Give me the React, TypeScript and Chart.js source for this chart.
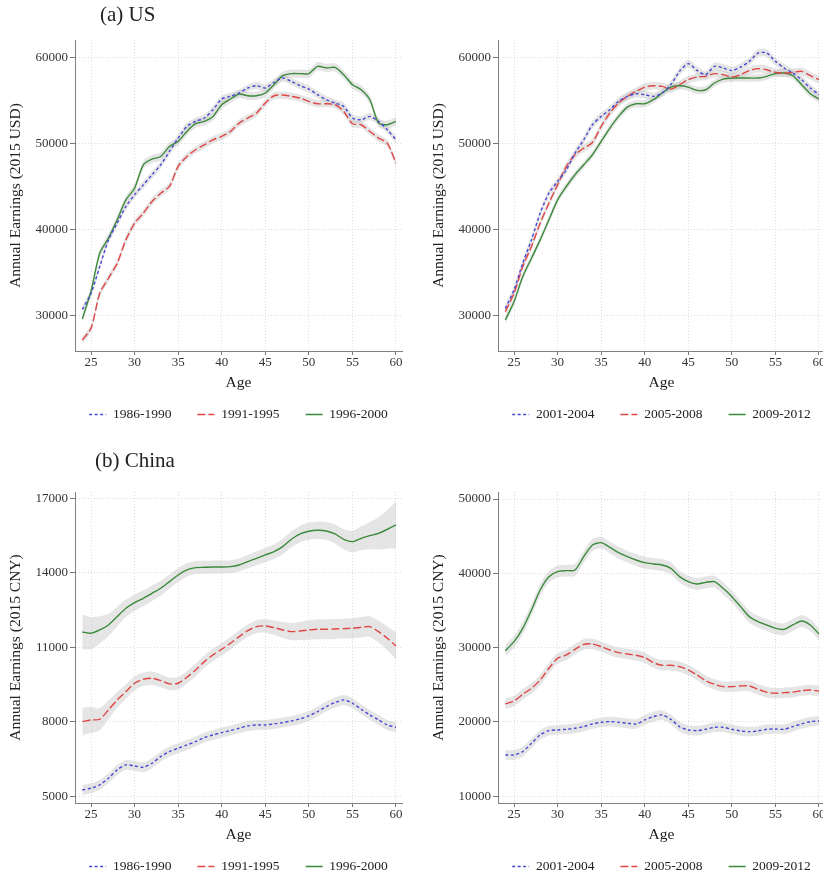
import React, { useEffect, useRef } from "react";
import { Chart, registerables } from "chart.js";

Chart.register(...registerables);

// ---------- data ----------
const ages = [24, 25, 26, 27, 28, 29, 30, 31, 32, 33, 34, 35, 36, 37, 38, 39, 40, 41, 42, 43, 44, 45, 46, 47, 48, 49, 50, 51, 52, 53, 54, 55, 56, 57, 58, 59, 60];
const xTicks = [25, 30, 35, 40, 45, 50, 55, 60];

const earlyCohorts = ["1986-1990", "1991-1995", "1996-2000"];
const lateCohorts = ["2001-2004", "2005-2008", "2009-2012"];

const usYTicks = [30000, 40000, 50000, 60000];
const cnEarlyYTicks = [5000, 8000, 11000, 14000, 17000];
const cnLateYTicks = [10000, 20000, 30000, 40000, 50000];

// (a) US, left
const us1986 = [30780, 32640, 35750, 38850, 40800, 42730, 44100, 45250, 46420, 47580, 49130, 50690, 52050, 52630, 53020, 53990, 55230, 55540, 55930, 56510, 56780, 56510, 57170, 57670, 57280, 56780, 56390, 55730, 55150, 54760, 54370, 53020, 52820, 53210, 52630, 51660, 50490];
const us1991 = [27210, 28570, 32640, 34390, 36130, 38850, 40790, 41950, 43310, 44280, 45060, 47390, 48550, 49330, 49910, 50490, 50880, 51460, 52430, 53020, 53600, 54760, 55610, 55690, 55540, 55340, 54950, 54680, 54680, 54570, 53790, 52360, 52240, 51460, 50690, 50100, 47780];
const us1996 = [29650, 32900, 37300, 39050, 41200, 43500, 44860, 47580, 48240, 48550, 49720, 50300, 51460, 52360, 52630, 53210, 54570, 55230, 55810, 55610, 55610, 55930, 56900, 57940, 58180, 58180, 58180, 59030, 58840, 58910, 58060, 56900, 56310, 55150, 52430, 52240, 52630];

// (a) US, right
const us2001 = [30890, 33030, 36130, 38850, 41950, 44280, 45640, 47000, 48940, 50490, 52240, 53210, 53990, 54950, 55540, 55850, 55730, 55540, 55930, 56900, 58450, 59340, 58560, 58060, 59030, 58840, 58530, 58950, 59610, 60580, 60580, 59610, 58840, 58250, 57480, 56510, 55730];
const us2005 = [30510, 32640, 35750, 38080, 40790, 43120, 45250, 47390, 48750, 49520, 50180, 52050, 53600, 54760, 55540, 56120, 56620, 56780, 56700, 56390, 56900, 57480, 57790, 57870, 58180, 58060, 57790, 58060, 58530, 58760, 58640, 58330, 58250, 58330, 58450, 57940, 57480];
const us2009 = [29530, 31670, 34580, 36720, 38850, 41180, 43510, 45060, 46420, 47580, 48750, 50300, 51850, 53210, 54290, 54680, 54680, 55150, 55930, 56620, 56780, 56620, 56240, 56310, 57090, 57550, 57670, 57670, 57670, 57670, 57870, 58180, 58250, 57940, 56900, 55850, 55230];

// (b) China, left
const cn1986 = [5258, 5325, 5459, 5727, 6062, 6264, 6224, 6170, 6331, 6600, 6801, 6935, 7069, 7203, 7364, 7472, 7566, 7646, 7740, 7834, 7874, 7874, 7915, 7969, 8036, 8116, 8237, 8411, 8613, 8774, 8881, 8747, 8505, 8277, 8076, 7874, 7780];
const cn1991 = [8009, 8076, 8103, 8478, 8881, 9216, 9552, 9713, 9753, 9659, 9525, 9552, 9793, 10089, 10424, 10693, 10921, 11162, 11430, 11672, 11833, 11860, 11793, 11699, 11632, 11659, 11699, 11726, 11726, 11739, 11753, 11766, 11806, 11833, 11632, 11364, 11055];
const cn1996 = [11618, 11565, 11700, 11900, 12236, 12571, 12800, 12974, 13175, 13377, 13645, 13913, 14115, 14209, 14222, 14235, 14235, 14249, 14316, 14450, 14584, 14719, 14853, 15054, 15349, 15564, 15671, 15712, 15685, 15564, 15349, 15255, 15390, 15497, 15591, 15752, 15926];

// (b) China, right
const cn2001 = [15563, 15563, 16011, 17132, 18253, 18836, 18926, 19016, 19150, 19374, 19733, 19957, 20047, 19957, 19822, 19733, 20271, 20719, 20943, 20360, 19374, 18926, 18836, 19016, 19285, 19285, 19016, 18791, 18702, 18791, 19016, 19060, 19016, 19374, 19733, 20047, 20137];
const cn2005 = [22423, 22827, 23724, 24531, 25652, 27221, 28566, 29015, 29777, 30450, 30494, 30136, 29687, 29329, 29149, 28970, 28656, 27984, 27625, 27625, 27446, 26997, 26325, 25563, 25069, 24755, 24755, 24845, 24845, 24397, 23993, 23859, 23948, 23993, 24217, 24307, 24172];
const cn2009 = [29598, 30809, 32602, 35068, 37759, 39552, 40225, 40359, 40449, 42243, 43812, 44126, 43498, 42781, 42243, 41794, 41436, 41256, 41122, 40673, 39552, 38880, 38566, 38790, 38880, 37983, 36862, 35517, 34171, 33499, 33050, 32602, 32467, 33050, 33588, 33050, 31840];

// confidence band half-widths (data units)
const us1986Ci = 420;
const us1991Ci = 420;
const us1996Ci = 480;
const us2001Ci = 450;
const us2005Ci = 450;
const us2009Ci = 420;
const cn1986Ci = 200;
const cn1991Ci = [550, 520, 450, 380, 320, 290, 280, 270, 270, 260, 250, 250, 250, 250, 250, 250, 250, 250, 250, 250, 260, 270, 290, 320, 350, 370, 390, 400, 400, 400, 400, 400, 410, 420, 440, 480, 540];
const cn1996Ci = [700, 650, 550, 450, 400, 350, 330, 320, 310, 300, 290, 280, 270, 260, 260, 260, 260, 260, 260, 270, 280, 290, 300, 310, 320, 330, 340, 350, 360, 380, 400, 430, 480, 550, 650, 780, 950];
const cn2001Ci = 650;
const cn2005Ci = 700;
const cn2009Ci = 800;

// ---------- styling ----------
const FONT = "'Liberation Serif', 'Times New Roman', Times, serif";
const lineColors = ["#4747d6", "#e04646", "#3b8a3b"];
const lineDashes: number[][] = [[3, 2.5], [8, 3], []];
const bandColor = "rgba(192,192,192,0.42)";

type Panel = {
  key: string;
  left: number;
  top: number;
  yMin: number;
  yMax: number;
  yTicks: number[];
  yTitle: string;
  cohorts: string[];
  series: number[][];
  ci: (number | number[])[];
};

const panels: Panel[] = [
  { key: "usA", left: 0, top: 0, yMin: 25930, yMax: 62093, yTicks: usYTicks, yTitle: "Annual Earnings (2015 USD)", cohorts: earlyCohorts, series: [us1986, us1991, us1996], ci: [us1986Ci, us1991Ci, us1996Ci] },
  { key: "usB", left: 423, top: 0, yMin: 25930, yMax: 62093, yTicks: usYTicks, yTitle: "Annual Earnings (2015 USD)", cohorts: lateCohorts, series: [us2001, us2005, us2009], ci: [us2001Ci, us2005Ci, us2009Ci] },
  { key: "cnA", left: 0, top: 452, yMin: 4730, yMax: 17254, yTicks: cnEarlyYTicks, yTitle: "Annual Earnings (2015 CNY)", cohorts: earlyCohorts, series: [cn1986, cn1991, cn1996], ci: [cn1986Ci, cn1991Ci, cn1996Ci] },
  { key: "cnB", left: 423, top: 452, yMin: 9099, yMax: 50942, yTicks: cnLateYTicks, yTitle: "Annual Earnings (2015 CNY)", cohorts: lateCohorts, series: [cn2001, cn2005, cn2009], ci: [cn2001Ci, cn2005Ci, cn2009Ci] },
];

// centre the legend under the plot area (symmetric box around the plot area, wide enough for one row)
const legendUnderPlot = {
  id: "legendUnderPlot",
  afterLayout(chart: any) {
    const lg = chart.legend;
    const ca = chart.chartArea;
    if (lg && ca) {
      const extra = 45;
      lg.left = ca.left - extra;
      lg.right = ca.right + extra;
      lg.width = lg.right - lg.left;
    }
  },
};

function makeConfig(p: Panel): any {
  const datasets: any[] = [];
  p.series.forEach((vals, i) => {
    datasets.push({
      label: p.cohorts[i],
      data: ages.map((a, k) => ({ x: a, y: vals[k] })),
      borderColor: lineColors[i],
      borderDash: lineDashes[i],
      borderWidth: 1.4,
      pointRadius: 0,
      fill: false,
      tension: 0.25,
      order: i,
    });
  });
  p.series.forEach((vals, i) => {
    const ci = p.ci[i];
    const half = (k: number) => (Array.isArray(ci) ? ci[k] : ci);
    datasets.push({
      label: "band-upper",
      data: ages.map((a, k) => ({ x: a, y: vals[k] + half(k) })),
      borderColor: "rgba(0,0,0,0)",
      borderWidth: 0,
      pointRadius: 0,
      backgroundColor: bandColor,
      fill: "+1",
      tension: 0.25,
      order: 10,
    });
    datasets.push({
      label: "band-lower",
      data: ages.map((a, k) => ({ x: a, y: vals[k] - half(k) })),
      borderColor: "rgba(0,0,0,0)",
      borderWidth: 0,
      pointRadius: 0,
      backgroundColor: bandColor,
      fill: false,
      tension: 0.25,
      order: 10,
    });
  });

  return {
    type: "line",
    data: { datasets },
    plugins: [legendUnderPlot],
    options: {
      animation: false,
      responsive: false,
      maintainAspectRatio: false,
      devicePixelRatio: 1,
      events: [],
      layout: { padding: { top: 40, right: 8, bottom: 20.25, left: 0 } },
      plugins: {
        tooltip: { enabled: false },
        title: { display: false },
        legend: {
          display: true,
          position: "bottom",
          fullSize: true,
          maxHeight: 38,
          labels: {
            usePointStyle: true,
            pointStyleWidth: 17,
            padding: 26,
            color: "#222",
            font: { family: FONT, size: 13.5 },
            generateLabels: () =>
              p.cohorts.map((t, i) => ({
                text: t,
                fillStyle: lineColors[i],
                strokeStyle: lineColors[i],
                lineWidth: 1.5,
                lineDash: lineDashes[i],
                pointStyle: "line",
                hidden: false,
                datasetIndex: i,
                fontColor: "#222",
              })),
          },
        },
      },
      scales: {
        x: {
          type: "linear",
          min: 23.16,
          max: 60.69,
          afterBuildTicks: (s: any) => {
            s.ticks = xTicks.map((v) => ({ value: v }));
          },
          afterFit: (s: any) => {
            s.height = 30.75;
          },
          ticks: {
            autoSkip: false,
            maxRotation: 0,
            padding: 0,
            color: "#333",
            font: { family: FONT, size: 13 },
            callback: (v: any) => String(v),
          },
          grid: {
            color: "#dcdcdc",
            lineWidth: 1,
            drawTicks: true,
            tickLength: 4,
            tickColor: "#777",
          },
          border: { display: true, color: "#808080", width: 1, dash: [1, 2] },
          title: {
            display: true,
            text: "Age",
            color: "#222",
            font: { family: FONT, size: 15.5 },
            padding: { top: 0, bottom: -10.5 },
          },
        },
        y: {
          type: "linear",
          min: p.yMin,
          max: p.yMax,
          afterBuildTicks: (s: any) => {
            s.ticks = p.yTicks.map((v) => ({ value: v }));
          },
          afterFit: (s: any) => {
            s.width = 75;
          },
          ticks: {
            padding: 2,
            color: "#333",
            font: { family: FONT, size: 13 },
            callback: (v: any) => String(v),
          },
          grid: {
            color: "#dcdcdc",
            lineWidth: 1,
            drawTicks: true,
            tickLength: 5,
            tickColor: "#777",
          },
          border: { display: true, color: "#808080", width: 1, dash: [1, 2] },
          title: {
            display: true,
            text: p.yTitle,
            color: "#222",
            font: { family: FONT, size: 15.5 },
            padding: { top: 7, bottom: 0 },
          },
        },
      },
    },
  };
}

function PanelChart({ p }: { p: Panel }) {
  const ref = useRef<HTMLCanvasElement | null>(null);
  useEffect(() => {
    if (!ref.current) return;
    const chart = new Chart(ref.current, makeConfig(p));
    return () => chart.destroy();
  }, [p]);
  return (
    <canvas
      ref={ref}
      width={410}
      height={440}
      style={{ position: "absolute", left: p.left, top: p.top, width: 410, height: 440 }}
    />
  );
}

const titleStyle = (left: number, top: number): React.CSSProperties => ({
  position: "absolute",
  left,
  top,
  fontFamily: FONT,
  fontSize: 21,
  lineHeight: "24px",
  color: "#222",
  whiteSpace: "nowrap",
});

export default function App() {
  return (
    <div
      style={{
        position: "fixed",
        left: 0,
        top: 0,
        width: 823,
        height: 879,
        overflow: "hidden",
        background: "#fff",
      }}
    >
      {panels.map((p) => (
        <PanelChart key={p.key} p={p} />
      ))}
      <div style={titleStyle(100, 2)}>(a) US</div>
      <div style={titleStyle(95, 448)}>(b) China</div>
    </div>
  );
}
